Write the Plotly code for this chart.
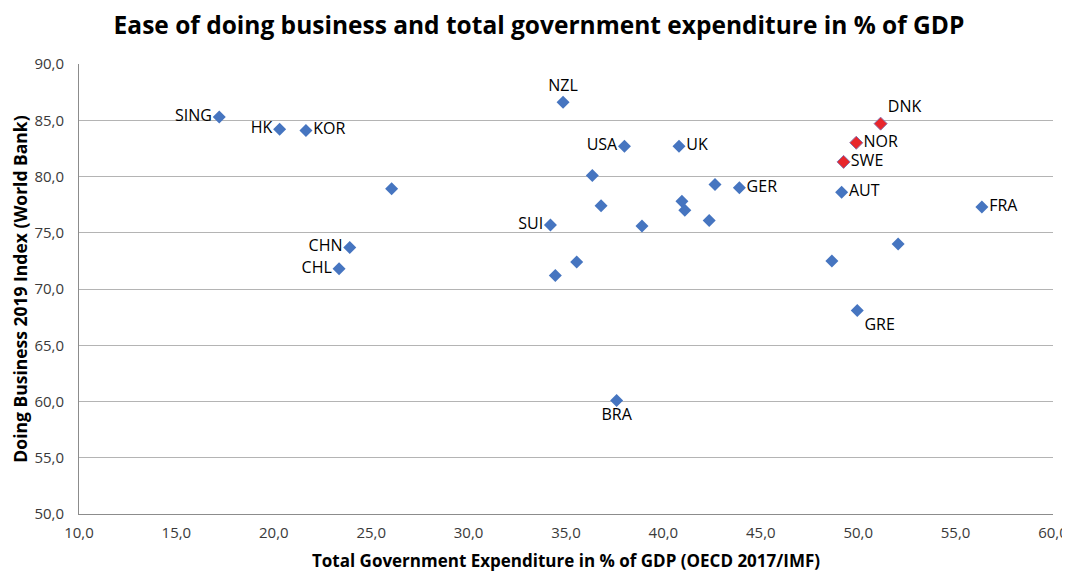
import plotly.graph_objects as go

# blue points (label "" = unlabelled)
labels = ["SING", "HK", "KOR", "", "CHN", "CHL", "NZL", "USA", "UK", "", "",
          "SUI", "", "", "", "", "", "GER", "", "", "AUT", "FRA", "", "", "GRE", "BRA"]
expenditure = [17.2, 20.3, 21.65, 26.05, 23.9, 23.35, 34.85, 38.0, 40.8, 36.35, 36.8,
               34.2, 38.9, 40.95, 41.1, 42.35, 42.65, 43.9, 35.55, 34.45, 49.15, 56.35,
               52.05, 48.65, 49.95, 37.6]
doing_business = [85.3, 84.2, 84.1, 78.9, 73.7, 71.8, 86.6, 82.7, 82.7, 80.1, 77.4,
                  75.7, 75.6, 77.8, 77.0, 76.1, 79.3, 79.0, 72.4, 71.2, 78.6, 77.3,
                  74.0, 72.5, 68.1, 60.1]

# red points (Nordics)
nordic_labels = ["DNK", "NOR", "SWE"]
nordic_expenditure = [51.15, 49.9, 49.25]
nordic_doing_business = [84.7, 83.0, 81.3]

label_side = {"SING": "middle left", "HK": "middle left", "KOR": "middle right",
              "CHN": "middle left", "CHL": "middle left", "NZL": "top center",
              "USA": "middle left", "UK": "middle right", "SUI": "middle left",
              "GER": "middle right", "AUT": "middle right", "FRA": "middle right",
              "GRE": "bottom right", "BRA": "bottom center",
              "DNK": "top right", "NOR": "middle right", "SWE": "middle right"}

font = "Open Sans, Noto Sans, sans-serif"

fig = go.Figure()
fig.add_trace(go.Scatter(
    x=expenditure, y=doing_business, mode="markers+text", text=labels,
    textposition=[label_side.get(l, "middle right") for l in labels],
    textfont=dict(size=16, color="#000000", family=font),
    marker=dict(symbol="diamond", size=10, color="#4675C0"),
    showlegend=False, cliponaxis=False))
fig.add_trace(go.Scatter(
    x=nordic_expenditure, y=nordic_doing_business, mode="markers+text", text=nordic_labels,
    textposition=[label_side[l] for l in nordic_labels],
    textfont=dict(size=16, color="#000000", family=font),
    marker=dict(symbol="diamond", size=10, color="#E8262C",
                line=dict(color="#8A6FA8", width=1)),
    showlegend=False, cliponaxis=False))

# the page body adds 8px around the figure, so the figure is 8px smaller
fig.update_layout(
    width=1062, height=564,
    paper_bgcolor="white", plot_bgcolor="white",
    separators=",.",
    margin=dict(l=71, r=17, t=56, b=58),
    title=dict(text="<b>Ease of doing business and total government expenditure in % of GDP</b>",
               x=0.5, xanchor="center", y=0.97, yanchor="middle",
               font=dict(size=24.5, family=font, color="#000000")),
    xaxis=dict(range=[10, 60], dtick=5, tickformat=".1f", showgrid=False,
               showline=True, linecolor="#8C8C8C", linewidth=1, zeroline=False,
               ticks="", ticklabelstandoff=5, automargin=False,
               tickfont=dict(size=15, family=font, color="#3A3A3A"),
               title=dict(text="<b>Total Government Expenditure in % of GDP (OECD 2017/IMF)</b>",
                          font=dict(size=17, family=font, color="#000000"), standoff=16)),
    yaxis=dict(range=[50, 90], dtick=5, tickformat=".1f", showgrid=True,
               gridcolor="#B4B4B4", gridwidth=1,
               showline=True, linecolor="#8C8C8C", linewidth=1, zeroline=False,
               ticks="", ticklabelstandoff=11, automargin=False,
               tickfont=dict(size=15, family=font, color="#3A3A3A"),
               title=dict(text="<b>Doing Business 2019 Index (World Bank)</b>",
                          font=dict(size=17.5, family=font, color="#000000"), standoff=6)),
)

fig.write_html("out.html")
